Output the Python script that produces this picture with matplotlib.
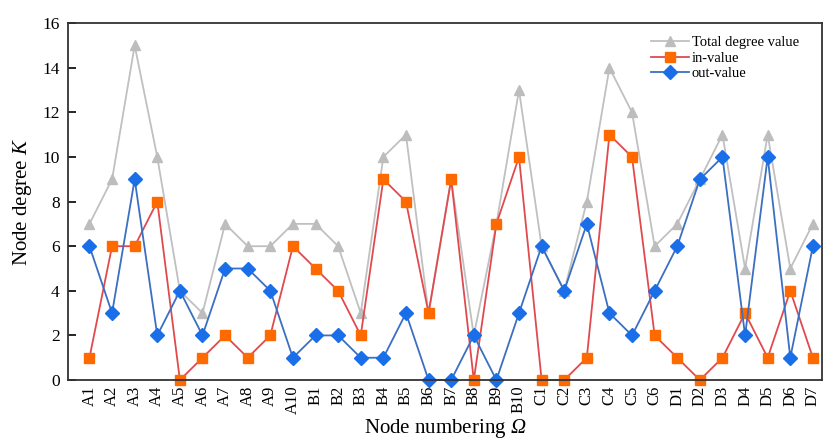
import numpy as np
import matplotlib
matplotlib.use("Agg")
import matplotlib.pyplot as plt

plt.rcParams['font.family'] = ['Liberation Serif', 'DejaVu Serif']
# math is only used for the italic symbols K and Omega
plt.rcParams['mathtext.fontset'] = 'custom'
plt.rcParams['mathtext.it'] = 'Liberation Serif:italic'
plt.rcParams['mathtext.rm'] = 'Liberation Serif:italic'

# node names
nodes = ['A%d' % i for i in range(1, 11)] + ['B%d' % i for i in range(1, 11)] \
    + ['C%d' % i for i in range(1, 7)] + ['D%d' % i for i in range(1, 8)]

total_deg = [7, 9, 15, 10, 4, 3, 7, 6, 6, 7,
             7, 6, 3, 10, 11, 3, 9, 2, 7, 13,
             6, 4, 8, 14, 12, 6,
             7, 9, 11, 5, 11, 5, 7]
in_deg = [1, 6, 6, 8, 0, 1, 2, 1, 2, 6,
          5, 4, 2, 9, 8, 3, 9, 0, 7, 10,
          0, 0, 1, 11, 10, 2,
          1, 0, 1, 3, 1, 4, 1]
out_deg = [6, 3, 9, 2, 4, 2, 5, 5, 4, 1,
           2, 2, 1, 1, 3, 0, 0, 2, 0, 3,
           6, 4, 7, 3, 2, 4,
           6, 9, 10, 2, 10, 1, 6]

fig = plt.figure(figsize=(8.24, 4.45), dpi=100)
ax = fig.add_axes([0.0825, 0.146, 0.915, 0.802])

x = np.arange(len(nodes))
ax.plot(x, total_deg, color='#c0c0c0', lw=1.3, marker='^', ms=7.5,
        mfc='#bdbdbd', mec='#bdbdbd', label='Total degree value', clip_on=False)
ax.plot(x, in_deg, color='#e04a4f', lw=1.3, marker='s', ms=7,
        mfc='#ff6a00', mec='#ff6a00', label='in-value', clip_on=False)
ax.plot(x, out_deg, color='#3b6fc2', lw=1.3, marker='D', ms=7,
        mfc='#1a6ee8', mec='#1a6ee8', label='out-value', clip_on=False)

ax.set_xlim(-0.95, 32.4)
ax.set_ylim(0, 16)
ax.set_yticks(np.arange(0, 17, 2))
ax.set_xticks(x)
ax.set_xticklabels(nodes, rotation=90, fontsize=12)
ax.tick_params(axis='x', length=0, pad=4)
ax.tick_params(axis='y', direction='in', length=6, width=1.2, labelsize=12.5, pad=6)
for sp in ax.spines.values():
    sp.set_linewidth(1.3)
    sp.set_color('#333333')

ax.set_ylabel('Node degree $K$', fontsize=15, labelpad=6)
ax.set_xlabel('Node numbering $\\Omega$', fontsize=15, labelpad=2)

ax.legend(loc='upper right', bbox_to_anchor=(0.987, 1.0), frameon=False,
          fontsize=10.5, handlelength=2.6, handletextpad=0.2, labelspacing=0.15)

fig.savefig('out.png', dpi=100)
